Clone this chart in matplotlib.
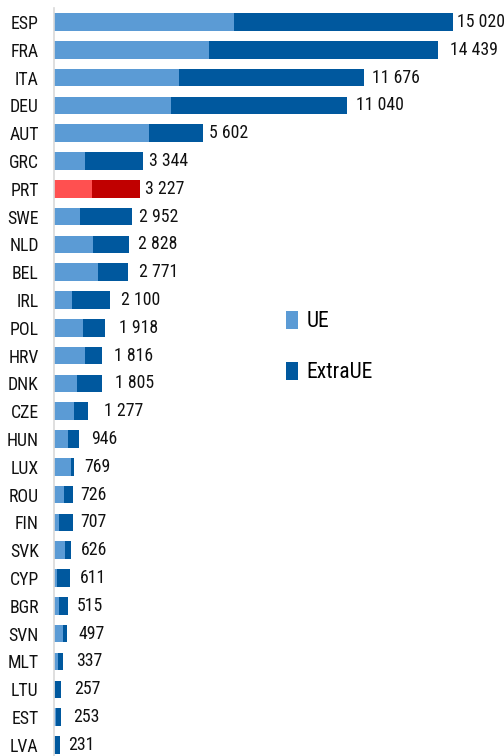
import matplotlib
matplotlib.use("Agg")
import matplotlib.pyplot as plt
import matplotlib.font_manager as fm
from matplotlib.patches import Patch

countries = ["ESP", "FRA", "ITA", "DEU", "AUT", "GRC", "PRT", "SWE", "NLD", "BEL",
             "IRL", "POL", "HRV", "DNK", "CZE", "HUN", "LUX", "ROU", "FIN", "SVK",
             "CYP", "BGR", "SVN", "MLT", "LTU", "EST", "LVA"]
totals = [15020, 14439, 11676, 11040, 5602, 3344, 3227, 2952, 2828, 2771,
          2100, 1918, 1816, 1805, 1277, 946, 769, 726, 707, 626,
          611, 515, 497, 337, 257, 253, 231]
ue = [6790, 5850, 4705, 4405, 3575, 1165, 1430, 980, 1470, 1655,
      680, 1090, 1165, 865, 750, 525, 640, 375, 190, 415,
      115, 190, 340, 150, 30, 75, 30]
extra_ue = [t - u for t, u in zip(totals, ue)]
legend_labels = ["UE", "ExtraUE"]
highlight = "PRT"

# gap (in pixels) between each bar end and its value label, as in the reference
label_gap_px = [4, 12, 8, 9, 6, 6, 5, 7, 9, 11, 11, 14, 12, 13, 16, 12, 10, 7, 7, 10,
                10, 9, 11, 13, 13, 12, 8]

C_UE = "#5B9BD5"
C_EX = "#00589E"
C_UE_H = "#FF5050"
C_EX_H = "#C00000"

# look for a narrow / condensed sans font (the reference uses a condensed face)
prefs = ["Liberation Sans Narrow", "Noto Sans", "Open Sans", "Roboto", "DejaVu Sans", "Lato", "Inter"]
found = None
for fam in prefs:
    for f in fm.fontManager.ttflist:
        nm = f.name
        fn = f.fname.lower()
        is_narrow = ("narrow" in nm.lower() or "condensed" in nm.lower()
                     or f.stretch in ("condensed", "semi-condensed", "extra-condensed")
                     or "condensed" in fn or "narrow" in fn)
        if not is_narrow:
            continue
        if not nm.startswith(fam):
            continue
        if "semi" in fn or "extra" in fn or "ultra" in fn:
            continue
        if f.style != "normal" or f.weight not in ("normal", "regular", 400):
            continue
        if not (fn.endswith(".ttf") or fn.endswith(".otf")):
            continue
        found = f.fname
        break
    if found:
        break

if found:
    fp = fm.FontProperties(fname=found)
    base = 12.8
else:
    fp = fm.FontProperties(family=["Liberation Sans", "DejaVu Sans"])
    base = 10.5

W, H = 504, 756
fig = plt.figure(figsize=(W / 100, H / 100), dpi=100)
ax = fig.add_axes([54 / W, 0, 1 - 54 / W, 1])

y = list(range(len(countries)))
c1 = [C_UE_H if c == highlight else C_UE for c in countries]
c2 = [C_EX_H if c == highlight else C_EX for c in countries]
ax.barh(y, ue, height=0.63, color=c1, linewidth=0)
ax.barh(y, extra_ue, left=ue, height=0.63, color=c2, linewidth=0)

for yi, t, g in zip(y, totals, label_gap_px):
    lab = f"{t:,}".replace(",", " ")
    ax.annotate(lab, (t, yi), xytext=(g, 0), textcoords="offset pixels",
                va="center", ha="left", fontproperties=fp, fontsize=base, color="#111111")

ax.set_xlim(0, 16940)
ax.set_ylim(26.40, -0.79)
ax.set_yticks(y)
ax.set_yticklabels(countries, fontproperties=fp, fontsize=base, color="#111111")
ax.tick_params(axis="y", length=0, pad=11)
ax.set_xticks([])
for s in ["top", "right", "bottom"]:
    ax.spines[s].set_visible(False)
ax.spines["left"].set_color("#D9D9D9")
ax.spines["left"].set_linewidth(1.2)
ax.spines["left"].set_bounds(-0.5, 26.4)

lp = fp.copy()
lp.set_size(base * 1.22)
handles = [Patch(facecolor=C_UE, edgecolor="none"), Patch(facecolor=C_EX, edgecolor="none")]
fig.legend(handles, legend_labels, loc="upper left", bbox_to_anchor=(286 / W, 1 - 311 / H),
           frameon=False, prop=lp, handlelength=0.55, handleheight=0.9,
           handletextpad=0.4, labelspacing=1.35, borderaxespad=0, borderpad=0)

fig.savefig("out.png", dpi=100)
